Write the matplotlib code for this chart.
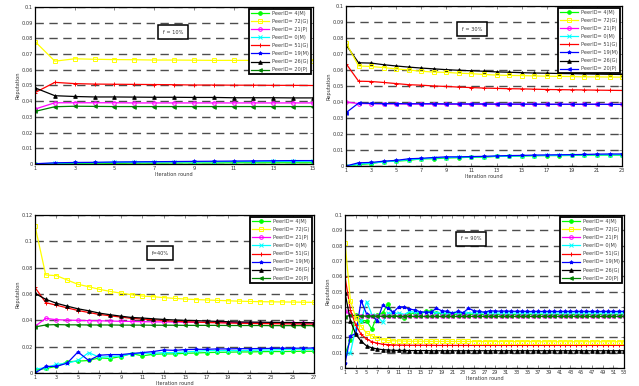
import matplotlib
matplotlib.use("Agg")
import matplotlib.pyplot as plt

names = ["PeerID= 4(M)", "PeerID= 72(G)", "PeerID= 21(P)", "PeerID= 0(M)",
         "PeerID= 51(G)", "PeerID= 19(M)", "PeerID= 26(G)", "PeerID= 20(P)"]

# ---- f = 10% ----
p1_4M = [0.0000, 0.0003, 0.0004, 0.0005, 0.0005, 0.0006, 0.0006, 0.0007, 0.0007, 0.0007, 0.0008, 0.0008, 0.0008, 0.0008, 0.0008]
p1_72G = [0.0780, 0.0655, 0.0670, 0.0667, 0.0665, 0.0664, 0.0662, 0.0662, 0.0661, 0.0660, 0.0660, 0.0660, 0.0659, 0.0659, 0.0658]
p1_21P = [0.0350, 0.0390, 0.0390, 0.0390, 0.0390, 0.0389, 0.0389, 0.0389, 0.0389, 0.0389, 0.0389, 0.0389, 0.0389, 0.0389, 0.0389]
p1_0M = [0.0000, 0.0005, 0.0008, 0.0009, 0.0011, 0.0012, 0.0013, 0.0014, 0.0014, 0.0015, 0.0016, 0.0016, 0.0017, 0.0017, 0.0018]
p1_51G = [0.0455, 0.0520, 0.0512, 0.0509, 0.0508, 0.0507, 0.0506, 0.0505, 0.0503, 0.0503, 0.0502, 0.0502, 0.0501, 0.0501, 0.0500]
p1_19M = [0.0002, 0.0008, 0.0010, 0.0011, 0.0013, 0.0014, 0.0015, 0.0016, 0.0017, 0.0018, 0.0019, 0.0020, 0.0021, 0.0022, 0.0022]
p1_26G = [0.0485, 0.0435, 0.0430, 0.0427, 0.0427, 0.0426, 0.0425, 0.0425, 0.0424, 0.0424, 0.0422, 0.0422, 0.0422, 0.0421, 0.0421]
p1_20P = [0.0335, 0.0365, 0.0368, 0.0367, 0.0366, 0.0366, 0.0366, 0.0366, 0.0366, 0.0366, 0.0366, 0.0366, 0.0366, 0.0366, 0.0366]

# ---- f = 30% ----
p2_4M = [0.0000, 0.0008, 0.0015, 0.0028, 0.0030, 0.0035, 0.0045, 0.0045, 0.0050, 0.0052, 0.0055, 0.0055, 0.0060, 0.0061, 0.0062, 0.0064, 0.0065, 0.0065, 0.0066, 0.0067, 0.0068, 0.0068, 0.0068]
p2_72G = [0.0770, 0.0625, 0.0622, 0.0615, 0.0607, 0.0600, 0.0592, 0.0587, 0.0585, 0.0580, 0.0577, 0.0572, 0.0568, 0.0566, 0.0565, 0.0563, 0.0561, 0.0560, 0.0559, 0.0557, 0.0557, 0.0556, 0.0555]
p2_21P = [0.0400, 0.0390, 0.0389, 0.0388, 0.0388, 0.0387, 0.0387, 0.0387, 0.0386, 0.0386, 0.0386, 0.0386, 0.0386, 0.0385, 0.0385, 0.0385, 0.0385, 0.0385, 0.0385, 0.0385, 0.0385, 0.0385, 0.0385]
p2_0M = [0.0000, 0.0012, 0.0018, 0.0025, 0.0032, 0.0040, 0.0044, 0.0050, 0.0053, 0.0055, 0.0057, 0.0058, 0.0061, 0.0062, 0.0064, 0.0065, 0.0066, 0.0067, 0.0068, 0.0069, 0.0070, 0.0070, 0.0071]
p2_51G = [0.0640, 0.0530, 0.0528, 0.0522, 0.0515, 0.0508, 0.0505, 0.0500, 0.0497, 0.0493, 0.0490, 0.0487, 0.0485, 0.0483, 0.0482, 0.0480, 0.0478, 0.0477, 0.0476, 0.0475, 0.0474, 0.0473, 0.0472]
p2_19M = [0.0000, 0.0020, 0.0022, 0.0030, 0.0035, 0.0045, 0.0048, 0.0053, 0.0057, 0.0057, 0.0059, 0.0060, 0.0063, 0.0065, 0.0066, 0.0068, 0.0069, 0.0070, 0.0071, 0.0072, 0.0074, 0.0075, 0.0075]
p2_26G = [0.0757, 0.0645, 0.0643, 0.0633, 0.0625, 0.0618, 0.0612, 0.0607, 0.0602, 0.0598, 0.0595, 0.0592, 0.0588, 0.0586, 0.0583, 0.0581, 0.0580, 0.0578, 0.0577, 0.0575, 0.0574, 0.0573, 0.0572]
p2_20P = [0.0333, 0.0393, 0.0391, 0.0390, 0.0390, 0.0389, 0.0389, 0.0389, 0.0388, 0.0388, 0.0388, 0.0388, 0.0387, 0.0387, 0.0387, 0.0387, 0.0386, 0.0386, 0.0386, 0.0386, 0.0386, 0.0385, 0.0385]

# ---- f = 40% ----
p3_4M = [0.0020, 0.0035, 0.0050, 0.0085, 0.0090, 0.0095, 0.0115, 0.0110, 0.0125, 0.0148, 0.0130, 0.0142, 0.0145, 0.0145, 0.0150, 0.0152, 0.0155, 0.0157, 0.0158, 0.0160, 0.0160, 0.0162, 0.0163, 0.0163, 0.0164, 0.0165, 0.0165]
p3_72G = [0.1118, 0.0745, 0.0740, 0.0707, 0.0674, 0.0656, 0.0636, 0.0620, 0.0607, 0.0595, 0.0585, 0.0580, 0.0573, 0.0567, 0.0562, 0.0558, 0.0555, 0.0552, 0.0549, 0.0546, 0.0544, 0.0542, 0.0541, 0.0540, 0.0539, 0.0538, 0.0537]
p3_21P = [0.0355, 0.0415, 0.0405, 0.0402, 0.0400, 0.0398, 0.0397, 0.0395, 0.0393, 0.0392, 0.0390, 0.0389, 0.0388, 0.0387, 0.0386, 0.0385, 0.0384, 0.0384, 0.0383, 0.0383, 0.0382, 0.0382, 0.0381, 0.0381, 0.0380, 0.0380, 0.0380]
p3_0M = [0.0030, 0.0040, 0.0065, 0.0075, 0.0095, 0.0155, 0.0120, 0.0125, 0.0130, 0.0145, 0.0150, 0.0150, 0.0155, 0.0155, 0.0160, 0.0165, 0.0170, 0.0170, 0.0170, 0.0170, 0.0172, 0.0175, 0.0175, 0.0178, 0.0180, 0.0180, 0.0180]
p3_51G = [0.0650, 0.0535, 0.0515, 0.0495, 0.0475, 0.0460, 0.0445, 0.0435, 0.0425, 0.0415, 0.0410, 0.0405, 0.0398, 0.0393, 0.0390, 0.0387, 0.0384, 0.0382, 0.0380, 0.0378, 0.0377, 0.0376, 0.0375, 0.0374, 0.0373, 0.0372, 0.0372]
p3_19M = [0.0000, 0.0050, 0.0050, 0.0075, 0.0160, 0.0095, 0.0135, 0.0140, 0.0140, 0.0148, 0.0155, 0.0163, 0.0175, 0.0172, 0.0178, 0.0180, 0.0180, 0.0183, 0.0183, 0.0185, 0.0185, 0.0186, 0.0187, 0.0188, 0.0188, 0.0189, 0.0190]
p3_26G = [0.0605, 0.0560, 0.0530, 0.0508, 0.0488, 0.0473, 0.0455, 0.0443, 0.0432, 0.0422, 0.0418, 0.0412, 0.0407, 0.0403, 0.0400, 0.0398, 0.0395, 0.0392, 0.0390, 0.0388, 0.0387, 0.0386, 0.0385, 0.0384, 0.0383, 0.0383, 0.0382]
p3_20P = [0.0350, 0.0365, 0.0368, 0.0366, 0.0366, 0.0365, 0.0365, 0.0365, 0.0364, 0.0364, 0.0364, 0.0363, 0.0363, 0.0363, 0.0362, 0.0362, 0.0362, 0.0362, 0.0361, 0.0361, 0.0361, 0.0361, 0.0360, 0.0360, 0.0360, 0.0360, 0.0360]

# ---- f = 90% ----
p4_4M = [0.0095, 0.0180, 0.0350, 0.0310, 0.0310, 0.0255, 0.0345, 0.0360, 0.0420, 0.0350,
         0.0340, 0.0330, 0.0355, 0.0360, 0.0355, 0.0370, 0.0370, 0.0360, 0.0355, 0.0352,
         0.0352, 0.0352, 0.0351, 0.0351, 0.0351, 0.0351, 0.0350, 0.0350, 0.0350, 0.0350,
         0.0350, 0.0350, 0.0350, 0.0350, 0.0350, 0.0350, 0.0350, 0.0350, 0.0350, 0.0350,
         0.0350, 0.0350, 0.0350, 0.0350, 0.0350, 0.0350, 0.0350, 0.0350, 0.0350, 0.0350,
         0.0350, 0.0350, 0.0350]
p4_72G = [0.0820, 0.0440, 0.0330, 0.0270, 0.0230, 0.0210, 0.0195, 0.0185, 0.0180, 0.0178,
          0.0177, 0.0176, 0.0175, 0.0175, 0.0175, 0.0175, 0.0174, 0.0174, 0.0174, 0.0174,
          0.0174, 0.0174, 0.0174, 0.0174, 0.0173, 0.0173, 0.0173, 0.0173, 0.0173, 0.0173,
          0.0173, 0.0173, 0.0173, 0.0173, 0.0173, 0.0173, 0.0172, 0.0172, 0.0172, 0.0172,
          0.0172, 0.0172, 0.0172, 0.0172, 0.0172, 0.0172, 0.0172, 0.0172, 0.0172, 0.0172,
          0.0172, 0.0172, 0.0172]
p4_21P = [0.0375, 0.0345, 0.0340, 0.0339, 0.0338, 0.0338, 0.0338, 0.0338, 0.0338, 0.0338,
          0.0338, 0.0338, 0.0338, 0.0338, 0.0338, 0.0338, 0.0338, 0.0338, 0.0338, 0.0338,
          0.0338, 0.0338, 0.0338, 0.0338, 0.0338, 0.0338, 0.0338, 0.0338, 0.0338, 0.0338,
          0.0338, 0.0338, 0.0338, 0.0338, 0.0338, 0.0338, 0.0338, 0.0338, 0.0338, 0.0338,
          0.0338, 0.0338, 0.0338, 0.0338, 0.0338, 0.0338, 0.0338, 0.0338, 0.0338, 0.0338,
          0.0338, 0.0338, 0.0338]
p4_0M = [0.0100, 0.0100, 0.0260, 0.0310, 0.0435, 0.0350, 0.0340, 0.0300, 0.0360, 0.0355,
         0.0360, 0.0350, 0.0370, 0.0365, 0.0362, 0.0362, 0.0360, 0.0362, 0.0360, 0.0360,
         0.0360, 0.0360, 0.0360, 0.0360, 0.0360, 0.0360, 0.0360, 0.0360, 0.0360, 0.0360,
         0.0360, 0.0360, 0.0360, 0.0360, 0.0360, 0.0360, 0.0360, 0.0360, 0.0360, 0.0360,
         0.0360, 0.0360, 0.0360, 0.0360, 0.0360, 0.0360, 0.0360, 0.0360, 0.0360, 0.0360,
         0.0360, 0.0360, 0.0360]
p4_51G = [0.0595, 0.0380, 0.0280, 0.0220, 0.0190, 0.0172, 0.0162, 0.0156, 0.0153, 0.0151,
          0.0150, 0.0150, 0.0149, 0.0149, 0.0149, 0.0149, 0.0149, 0.0148, 0.0148, 0.0148,
          0.0148, 0.0148, 0.0148, 0.0148, 0.0148, 0.0148, 0.0148, 0.0148, 0.0148, 0.0148,
          0.0148, 0.0148, 0.0148, 0.0148, 0.0148, 0.0148, 0.0148, 0.0148, 0.0148, 0.0148,
          0.0148, 0.0148, 0.0148, 0.0148, 0.0148, 0.0148, 0.0148, 0.0148, 0.0148, 0.0148,
          0.0148, 0.0148, 0.0148]
p4_19M = [0.0030, 0.0210, 0.0225, 0.0440, 0.0355, 0.0340, 0.0310, 0.0410, 0.0390, 0.0365,
          0.0400, 0.0400, 0.0385, 0.0380, 0.0368, 0.0365, 0.0365, 0.0390, 0.0375, 0.0370,
          0.0358, 0.0370, 0.0362, 0.0390, 0.0375, 0.0370, 0.0365, 0.0375, 0.0372, 0.0372,
          0.0372, 0.0371, 0.0371, 0.0371, 0.0370, 0.0370, 0.0370, 0.0370, 0.0370, 0.0370,
          0.0370, 0.0370, 0.0370, 0.0370, 0.0370, 0.0370, 0.0370, 0.0370, 0.0370, 0.0370,
          0.0370, 0.0370, 0.0370]
p4_26G = [0.0490, 0.0310, 0.0220, 0.0175, 0.0145, 0.0132, 0.0125, 0.0120, 0.0118, 0.0116,
          0.0115, 0.0115, 0.0114, 0.0114, 0.0114, 0.0114, 0.0113, 0.0113, 0.0113, 0.0113,
          0.0113, 0.0113, 0.0113, 0.0113, 0.0113, 0.0113, 0.0113, 0.0113, 0.0113, 0.0113,
          0.0113, 0.0113, 0.0113, 0.0113, 0.0113, 0.0113, 0.0113, 0.0113, 0.0113, 0.0113,
          0.0113, 0.0113, 0.0113, 0.0113, 0.0113, 0.0113, 0.0113, 0.0113, 0.0113, 0.0113,
          0.0113, 0.0113, 0.0113]
p4_20P = [0.0335, 0.0345, 0.0343, 0.0341, 0.0340, 0.0340, 0.0339, 0.0339, 0.0338, 0.0338,
          0.0338, 0.0337, 0.0337, 0.0337, 0.0337, 0.0337, 0.0337, 0.0337, 0.0337, 0.0337,
          0.0337, 0.0337, 0.0337, 0.0337, 0.0337, 0.0337, 0.0337, 0.0337, 0.0337, 0.0337,
          0.0337, 0.0337, 0.0337, 0.0337, 0.0337, 0.0337, 0.0337, 0.0337, 0.0337, 0.0337,
          0.0337, 0.0337, 0.0337, 0.0337, 0.0337, 0.0337, 0.0337, 0.0337, 0.0337, 0.0337,
          0.0337, 0.0337, 0.0337]

fs = 3.6

# colour, marker, filled marker
styles = [("#00ff00", "o", True), ("#ffff00", "s", False), ("#ff00ff", "o", False),
          ("#00ffff", "x", False), ("#ff0000", "+", False), ("#0000ff", "*", True),
          ("#000000", "^", True), ("#008000", "<", True)]


def panel(rect, series, ymax, ystep, ylabels, label, lpos, col20=None):
    ax = fig.add_axes(rect)
    n = len(series[0])
    x = list(range(1, n + 1))
    order = [0, 3, 5, 2, 7, 4, 6, 1]
    lines = {}
    for i in order:
        c, m, filled = styles[i]
        if i == 7 and col20:
            c = col20
        ln, = ax.plot(x, series[i], color=c, lw=0.9, marker=m, ms=2.6,
                      mfc=c if filled else "none", mec=c, mew=0.7)
        lines[i] = ln
    ax.set_xlim(1, n)
    ax.set_ylim(0, ymax)
    ax.set_xticks(x[::2])
    ax.set_xticklabels([str(v) for v in x[::2]])
    yt = [k * ystep for k in range(len(ylabels))]
    ax.set_yticks(yt)
    ax.set_yticklabels(ylabels)
    ax.yaxis.grid(True, linestyle=(0, (6, 4)), color="0.3", lw=1.0)
    ax.set_axisbelow(True)
    ax.tick_params(direction="in", length=2, width=0.5, labelsize=fs,
                   top=True, right=True, pad=1.5, colors="0.35", labelcolor="0.2")
    for s in ax.spines.values():
        s.set_linewidth(0.9)
    ax.set_xlabel("Iteration round", fontsize=fs, labelpad=0.5, color="0.2")
    ax.set_ylabel("Reputation", fontsize=fs, labelpad=1, color="0.2")
    leg = ax.legend([lines[i] for i in range(8)], names, loc="upper right",
                    bbox_to_anchor=(1, 1), borderaxespad=0.35, fontsize=fs,
                    handlelength=3.6, labelspacing=0.62, handletextpad=0.6,
                    borderpad=0.4, fancybox=False, framealpha=1)
    leg.get_frame().set_edgecolor("black")
    leg.get_frame().set_linewidth(1.3)
    for t in leg.get_texts():
        t.set_color("0.25")
    ax.text(lpos[0], lpos[1], label, transform=ax.transAxes, fontsize=fs,
            ha="center", va="center", color="0.2",
            bbox=dict(boxstyle="square,pad=0.9", fc="white", ec="black", lw=1.1))
    return ax


fig = plt.figure(figsize=(6.39, 3.86), dpi=100)

ylab10 = ["0", "0.01", "0.02", "0.03", "0.04", "0.05", "0.06", "0.07", "0.08", "0.09", "0.1"]
ylab12 = ["0", "0.02", "0.04", "0.06", "0.08", "0.1", "0.12"]

panel([0.0548, 0.575, 0.435, 0.407],
      [p1_4M, p1_72G, p1_21P, p1_0M, p1_51G, p1_19M, p1_26G, p1_20P],
      0.1, 0.01, ylab10, "f = 10%", (0.496, 0.84))
panel([0.5415, 0.570, 0.432, 0.4145],
      [p2_4M, p2_72G, p2_21P, p2_0M, p2_51G, p2_19M, p2_26G, p2_20P],
      0.1, 0.01, ylab10, "f = 30%", (0.457, 0.856), col20="#0000ff")
panel([0.0548, 0.0337, 0.4366, 0.409],
      [p3_4M, p3_72G, p3_21P, p3_0M, p3_51G, p3_19M, p3_26G, p3_20P],
      0.12, 0.02, ylab12, "f=40%", (0.448, 0.76))
panel([0.540, 0.0466, 0.4366, 0.396],
      [p4_4M, p4_72G, p4_21P, p4_0M, p4_51G, p4_19M, p4_26G, p4_20P],
      0.1, 0.01, ylab10, "f = 90%", (0.452, 0.846))

fig.savefig("out.png", dpi=100)
